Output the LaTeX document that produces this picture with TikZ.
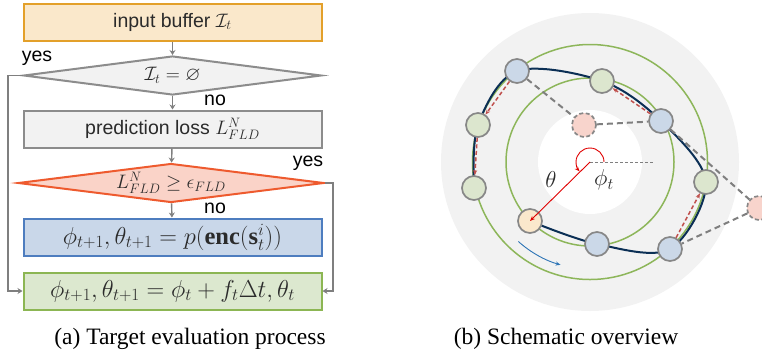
\documentclass[tikz,border=0pt]{standalone}
\usepackage{fix-cm}
\usepackage{amssymb}
\usepackage{fontspec}
\setmainfont{Liberation Serif}
\newfontfamily\flowfont{Liberation Sans}
\usetikzlibrary{shapes.geometric,arrows.meta}

\definecolor{bufferline}{HTML}{E3A02A}
\definecolor{bufferfill}{HTML}{FAE8CB}
\definecolor{lossline}{HTML}{8C8C8C}
\definecolor{lossfill}{HTML}{F2F2F2}
\definecolor{checkline}{HTML}{EE5A2E}
\definecolor{checkfill}{HTML}{FAD3C8}
\definecolor{encline}{HTML}{4E7DBF}
\definecolor{encfill}{HTML}{C9D7E9}
\definecolor{stepline}{HTML}{8CB653}
\definecolor{stepfill}{HTML}{DCE8CF}
\definecolor{txtgray}{HTML}{2B2B2B}
\definecolor{arrowgray}{HTML}{7F7F7F}
\definecolor{ringgreen}{HTML}{8DB65A}
\definecolor{pathnavy}{HTML}{0B2F55}
\definecolor{nodegray}{HTML}{878787}
\definecolor{nodeblue}{HTML}{CBD8E8}
\definecolor{nodegreen}{HTML}{DCE6CE}
\definecolor{nodeyellow}{HTML}{FAE8CC}
\definecolor{nodepink}{HTML}{F8D4CC}
\definecolor{hopred}{HTML}{C0504D}
\definecolor{anglered}{HTML}{E00000}
\definecolor{flowblue}{HTML}{2E75B6}
\definecolor{diskgray}{HTML}{F2F2F2}

\pgfdeclarelayer{back}
\pgfsetlayers{back,main}

\begin{document}
\begin{tikzpicture}[x=1pt,y=-1pt,
  flowbox/.style={draw, line width=2pt, minimum width=298pt, minimum height=37pt,
    inner sep=0pt, font=\flowfont\fontsize{19.5}{22}\selectfont, text=txtgray},
  formulabox/.style={flowbox, font=\fontsize{24.5}{26}\selectfont},
  decision/.style={diamond, draw, line width=2pt, aspect=9, minimum width=298pt,
    minimum height=39pt, inner sep=0pt, font=\flowfont\fontsize{19.5}{22}\selectfont, text=txtgray},
  flowarrow/.style={draw=arrowgray, line width=1.4pt, -{Stealth[length=5pt,width=6pt]}},
  answer/.style={font=\flowfont\fontsize{19.5}{22}\selectfont, text=black},
  caption/.style={font=\fontsize{23.5}{26}\selectfont},
  ringnode/.style={circle, draw=nodegray, line width=1.7pt, minimum size=24pt, inner sep=0pt},
  bluenode/.style={ringnode, fill=nodeblue},
  greennode/.style={ringnode, fill=nodegreen},
  yellownode/.style={ringnode, fill=nodeyellow},
  ghostnode/.style={ringnode, fill=nodepink, dash pattern=on 4pt off 2.5pt},
  ring/.style={draw=ringgreen, line width=1.5pt},
  hop/.style={draw=hopred, line width=1.5pt, dash pattern=on 4pt off 2.5pt,
    -{Stealth[length=5pt,width=4pt]}},
  jump/.style={draw=arrowgray, line width=2pt, dash pattern=on 6pt off 4pt},
  mathlabel/.style={font=\fontsize{23}{25}\selectfont, text=txtgray}]
\clip (0,0) rectangle (762,354);

% ---------- flowchart ----------
\node[flowbox, draw=bufferline, fill=bufferfill] (b1) at (172.5,22) {input buffer $\mathcal{I}_t$};
\node[decision, draw=lossline, fill=lossfill] (d1) at (172.5,75.5) {$\mathcal{I}_t=\varnothing$};
\node[flowbox, draw=lossline, fill=lossfill] (b2) at (172.5,129) {prediction loss $L^N_{FLD}$};
\node[decision, draw=checkline, fill=checkfill] (d2) at (171,183) {$L^N_{FLD}\geq\epsilon_{FLD}$};
\node[formulabox, draw=encline, fill=encfill] (b3) at (172.5,237) {$\phi_{t+1},\theta_{t+1}=p(\mathbf{enc}(\mathbf{s}^i_t))$};
\node[formulabox, draw=stepline, fill=stepfill] (b4) at (172.5,291) {$\phi_{t+1},\theta_{t+1}=\phi_t+f_t\Delta t,\theta_t$};

\coordinate (lcorner) at (8,0);
\coordinate (rcorner) at (333,0);

\draw[flowarrow] (b1) -- (d1);
\draw[flowarrow] (d1) -- (b2);
\draw[flowarrow] (b2) -- (d2);
\draw[flowarrow] (d2) -- (b3);
\draw[flowarrow] (d1.west) -- (d1.west -| lcorner) |- (b4.west);
\draw[flowarrow] (d2.east) -- (d2.east -| rcorner) |- (b4.east);

\node[answer] at (37,58) {yes};
\node[answer] at (215,100) {no};
\node[answer] at (308,163) {yes};
\node[answer] at (215,208) {no};

\node[caption] (capa) at (190,339) {(a) Target evaluation process};

% ---------- schematic ----------
\coordinate (C) at (590,162);

\node[bluenode]   (n1) at (517,71)  {};
\node[greennode]  (n2) at (602,81)  {};
\node[bluenode]   (n3) at (661,121) {};
\node[greennode]  (n4) at (706,182) {};
\node[bluenode]   (n5) at (670,249) {};
\node[bluenode]   (n6) at (597,244) {};
\node[yellownode] (n7) at (530,221) {};
\node[greennode]  (n8) at (474,188) {};
\node[greennode]  (n9) at (478,125) {};
\node[ghostnode]  (p1) at (584,125) {};
\node[ghostnode]  (p2) at (759,208) {};

\begin{pgfonlayer}{back}
  \fill[diskgray] (C) circle[radius=149pt];
  \fill[white] (C) circle[radius=52pt];
  \draw[ring] (C) circle[radius=117.5pt];
  \draw[ring] (C) circle[radius=84pt];
  \draw[pathnavy, line width=2pt] plot[smooth, tension=0.55] coordinates
    {(n8.center) (n9.center) (n1.center) (n2.center) (n3.center)
     (n4.center) (n5.center) (n6.center) (n7.center)};
  \draw[jump] (n1) -- (p1);
  \draw[jump] (p1) -- (n3);
  \draw[jump] (n3) -- (p2);
  \draw[jump] (p2) -- (n5);
  \coordinate (axisend) at (653,162);
  \draw[arrowgray, line width=0.8pt, dash pattern=on 3pt off 2pt] (C) -- (axisend);
\end{pgfonlayer}

\draw[hop] (n1) -- (n9);
\draw[hop] (n9) -- (n8);
\draw[hop] (n3) -- (n2);
\draw[hop] (n5) -- (n4);

\draw[anglered, line width=0.9pt, -{Stealth[length=5pt,width=4pt]}] (C) -- (n7.center);
\draw[anglered, line width=0.9pt, -{Stealth[length=5pt,width=4pt]}]
  ([xshift=14pt]C) arc[start angle=0, end angle=222, radius=14pt];
\draw[flowblue, line width=0.9pt, -{Stealth[length=5pt,width=4pt]}]
  ([shift={(228:107pt)}]C) arc[start angle=228, end angle=254, radius=107pt];

\node[mathlabel] (th) at (551,180) {$\theta$};
\node[mathlabel] (ph) at (604,180) {$\phi_t$};

\node[caption] (capb) at (566,339) {(b) Schematic overview};
\end{tikzpicture}
\end{document}
